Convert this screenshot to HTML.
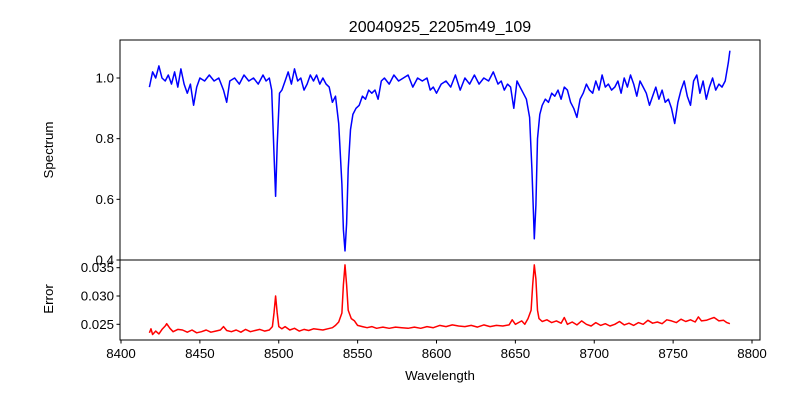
<!DOCTYPE html>
<html><head><meta charset="utf-8"><style>
body{margin:0;background:#fff}
svg text{font-family:"Liberation Sans","DejaVu Sans",sans-serif;fill:#000}
</style></head><body>
<svg id="chart" width="800" height="400" xmlns="http://www.w3.org/2000/svg">
<rect width="800" height="400" fill="#fff"/>
<text x="440" y="32" font-size="16" text-anchor="middle">20040925_2205m49_109</text>
<g id="topAxes"></g><g id="botAxes"></g>
<text transform="translate(53,150) rotate(-90)" font-size="13.3" text-anchor="middle">Spectrum</text>
<text transform="translate(53,299) rotate(-90)" font-size="13.3" text-anchor="middle">Error</text>
<text x="440" y="380" font-size="13.3" text-anchor="middle">Wavelength</text>
</svg>
<script>
const fluxWl=[8418,8420,8422,8424,8426,8428,8430,8432,8434,8436,8438,8440,8442,8444,8446,8448,8450,8453,8456,8459,8462,8465,8467,8469,8472,8475,8478,8481,8484,8487,8490,8492,8494,8495.5,8497,8498,8499,8500.5,8502,8504,8506,8508,8510,8512,8514,8516,8518,8520,8522,8524,8526,8528,8530,8532,8534,8536,8538,8540,8541,8542,8543,8544,8545.5,8547,8549,8551,8553,8555,8557,8559,8561,8563,8565,8567,8570,8573,8576,8579,8582,8585,8588,8591,8594,8596,8598,8600,8603,8606,8609,8612,8615,8618,8621,8624,8627,8630,8633,8636,8639,8641,8643,8645,8647,8649,8651,8653,8655,8657,8659,8660.5,8661.5,8662,8663,8664,8665.5,8667,8669,8671,8673,8675,8677,8679,8681,8683,8685,8687,8689,8691,8693,8695,8697,8699,8701,8703,8705,8707,8709,8711,8713,8715,8717,8719,8721,8723,8725,8727,8729,8731,8733,8735,8737,8739,8741,8743,8745,8747,8749,8751,8753,8755,8757,8759,8761,8763,8765,8767,8769,8771,8773,8775,8777,8779,8781,8783,8785,8786];
const fluxVals=[0.97,1.02,1.00,1.04,1.00,0.99,1.01,0.98,1.02,0.97,1.03,0.98,0.95,0.98,0.91,0.97,1.00,0.99,1.01,0.99,1.00,0.96,0.92,0.99,1.00,0.98,1.01,0.99,1.00,0.98,1.01,0.99,1.00,0.96,0.75,0.61,0.78,0.95,0.96,0.99,1.02,0.98,1.03,0.99,1.00,0.96,0.98,1.01,0.99,1.01,0.98,1.00,0.98,0.97,0.92,0.94,0.85,0.65,0.50,0.43,0.52,0.70,0.83,0.88,0.90,0.91,0.94,0.93,0.96,0.95,0.96,0.93,0.99,1.00,0.98,1.01,0.99,1.00,1.01,0.97,1.00,0.99,1.00,0.96,0.97,0.95,0.98,0.99,0.97,1.01,0.96,1.00,0.98,1.01,0.98,1.00,0.99,1.02,0.98,0.99,0.96,0.98,0.97,0.90,0.99,0.97,0.95,0.93,0.87,0.70,0.55,0.47,0.58,0.80,0.88,0.91,0.93,0.92,0.95,0.94,0.96,0.93,0.97,0.96,0.92,0.90,0.87,0.93,0.95,0.98,0.96,0.95,0.99,0.96,1.01,0.97,0.98,0.96,0.97,0.99,0.95,1.00,0.97,1.01,0.98,0.94,0.99,0.97,0.95,0.91,0.94,0.97,0.93,0.96,0.92,0.93,0.90,0.85,0.92,0.96,0.99,0.94,0.91,0.99,1.01,0.95,0.99,0.93,0.97,1.00,0.96,0.98,0.97,0.99,1.05,1.09];
const errWl=[8418,8419,8420,8422,8424,8426,8428,8429,8431,8433,8436,8439,8442,8445,8448,8451,8454,8457,8460,8463,8465,8467,8470,8473,8476,8479,8482,8485,8488,8491,8494,8496,8497,8498,8499,8500,8502,8504,8507,8510,8513,8516,8519,8522,8525,8528,8531,8534,8536,8538,8540,8541,8542,8543,8544,8546,8548,8550,8553,8556,8559,8562,8566,8570,8574,8578,8582,8586,8590,8594,8598,8602,8606,8610,8614,8618,8622,8626,8630,8634,8638,8642,8646,8648,8650,8652,8654,8656,8658,8660,8661,8662,8663,8664,8665,8667,8670,8673,8676,8679,8681,8683,8686,8689,8692,8695,8698,8701,8704,8707,8710,8713,8716,8719,8722,8725,8728,8731,8734,8737,8740,8743,8746,8749,8752,8755,8758,8761,8764,8766,8768,8771,8774,8776,8779,8782,8784,8786];
const errVals=[0.0235,0.0242,0.0232,0.0238,0.0233,0.0241,0.0247,0.0251,0.0243,0.0237,0.0241,0.0240,0.0236,0.0240,0.0235,0.0237,0.0240,0.0236,0.0238,0.0240,0.0246,0.0239,0.0237,0.0240,0.0236,0.0241,0.0237,0.0239,0.0241,0.0238,0.0240,0.0246,0.0270,0.0300,0.0270,0.0246,0.0242,0.0246,0.0240,0.0243,0.0238,0.0241,0.0239,0.0242,0.0241,0.0240,0.0242,0.0244,0.0248,0.0254,0.0270,0.0320,0.0355,0.0320,0.0275,0.0260,0.0256,0.0248,0.0246,0.0244,0.0246,0.0243,0.0245,0.0243,0.0245,0.0244,0.0243,0.0245,0.0243,0.0246,0.0244,0.0248,0.0246,0.0249,0.0247,0.0246,0.0248,0.0245,0.0249,0.0246,0.0248,0.0247,0.0249,0.0258,0.0250,0.0253,0.0256,0.0250,0.0260,0.0275,0.0320,0.0355,0.0330,0.0275,0.0260,0.0255,0.0258,0.0253,0.0256,0.0252,0.0262,0.0250,0.0254,0.0249,0.0256,0.0250,0.0247,0.0253,0.0248,0.0251,0.0247,0.0250,0.0255,0.0249,0.0252,0.0248,0.0253,0.0250,0.0257,0.0252,0.0254,0.0251,0.0258,0.0256,0.0253,0.0259,0.0255,0.0258,0.0254,0.0263,0.0256,0.0257,0.0260,0.0262,0.0256,0.0257,0.0253,0.0251];
const xTicks=[8400,8450,8500,8550,8600,8650,8700,8750,8800];
const fluxTicks=[0.4,0.6,0.8,1.0];
const errTicks=[0.025,0.030,0.035];

const NS="http://www.w3.org/2000/svg";
const L=120,R=760,T1=40,B1=260,B2=340;
const X=w=>121+(w-8400)*(631/400);
const Y1=f=>260-(f-0.4)*(182/0.6);
const Y2=e=>324.3-(e-0.025)*(56.6/0.01);
function mk(tag,attrs,parent){const e=document.createElementNS(NS,tag);for(const k in attrs)e.setAttribute(k,attrs[k]);parent.appendChild(e);return e;}
const gTop=document.getElementById('topAxes'),gBot=document.getElementById('botAxes');

const fl=mk('polyline',{points:fluxWl.map((w,i)=>X(w).toFixed(1)+','+Y1(fluxVals[i]).toFixed(1)).join(' '),fill:'none',stroke:'#0000ff','stroke-width':1.5,'stroke-linejoin':'round'},gTop);


const erl=mk('polyline',{points:errWl.map((w,i)=>X(w).toFixed(1)+','+Y2(errVals[i]).toFixed(1)).join(' '),fill:'none',stroke:'#ff0000','stroke-width':1.5,'stroke-linejoin':'round'},gBot);



const f1=mk('rect',{x:L,y:T1,width:R-L,height:B1-T1,fill:'none',stroke:'#000','stroke-width':1},gTop);


const f2=mk('rect',{x:L,y:B1,width:R-L,height:B2-B1,fill:'none',stroke:'#000','stroke-width':1},gBot);



fluxTicks.forEach(v=>{const y=Y1(v);
 mk('line',{x1:L-3.5,x2:L,y1:y,y2:y,stroke:'#000'},gTop);
 const t=mk('text',{x:L-6,y:y+4.5,'font-size':13.3,'text-anchor':'end'},gTop);t.textContent=v.toFixed(1);
 
 });
errTicks.forEach(v=>{const y=Y2(v);
 mk('line',{x1:L-3.5,x2:L,y1:y,y2:y,stroke:'#000'},gBot);
 const t=mk('text',{x:L-6,y:y+4.5,'font-size':13.3,'text-anchor':'end'},gBot);t.textContent=v.toFixed(3);
 
 });
xTicks.forEach(v=>{const x=X(v);
 mk('line',{x1:x,x2:x,y1:B2,y2:B2+3.5,stroke:'#000'},gBot);
 const t=mk('text',{x:x,y:B2+18,'font-size':13.3,'text-anchor':'middle'},gBot);t.textContent=v;
 
 });
</script>
</body></html>
